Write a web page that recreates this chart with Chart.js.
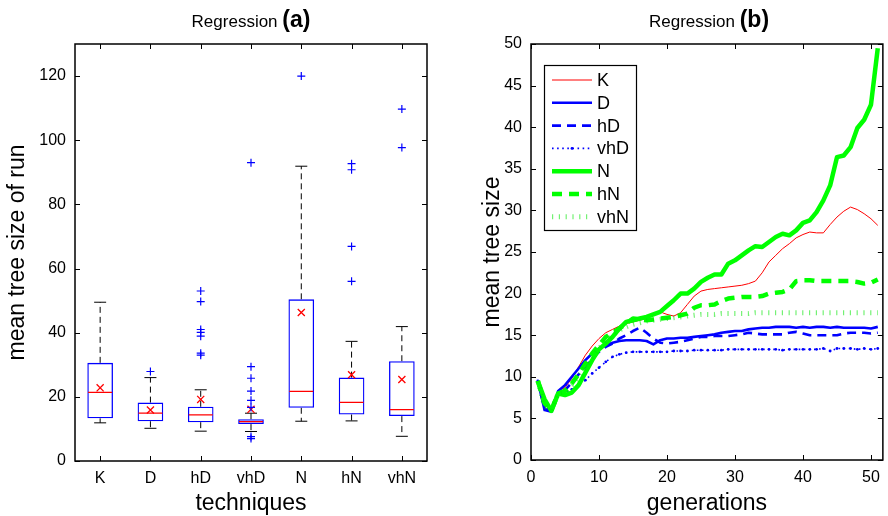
<!DOCTYPE html>
<html>
<head>
<meta charset="utf-8">
<script src="https://cdn.jsdelivr.net/npm/chart.js@4.4.1/dist/chart.umd.min.js"></script>
<style>
  html, body { margin: 0; padding: 0; background: #fff; }
  #page { position: relative; width: 888px; height: 516px; overflow: hidden; font-family: "Liberation Sans", Arial, Helvetica, sans-serif; }
  .panel { position: absolute; top: 0; width: 444px; height: 516px; }
  .title { position: absolute; top: 6px; width: 240px; text-align: center; color: #000; white-space: nowrap; }
  .title .n { font-size: 17px; }
  .title .b { font-size: 23px; font-weight: bold; }
</style>
</head>
<body>
<div id="page">
  <div class="panel" style="left:0"><canvas id="boxChart" width="444" height="516"></canvas></div>
  <div class="panel" style="left:444px"><canvas id="lineChart" width="444" height="516"></canvas></div>
  <div class="title" style="left:131px"><span class="n">Regression </span><span class="b">(a)</span></div>
  <div class="title" style="left:589px"><span class="n">Regression </span><span class="b">(b)</span></div>
</div>
<script>
// ---------- Panel (a): box plot data ----------
const techniques   = ['K', 'D', 'hD', 'vhD', 'N', 'hN', 'vhN'];
const whiskerLow   = [11.9, 10.2, 9.3, 9.2, 12.4, 12.5, 7.7];
const quartile1    = [13.3, 12.4, 12.1, 11.5, 16.6, 14.5, 14.0];
const medians      = [21.4, 14.9, 14.4, 12.3, 21.7, 18.3, 16.0];
const quartile3    = [30.6, 18.2, 16.9, 13.0, 50.4, 26.0, 31.1];
const whiskerHigh  = [49.5, 26.0, 22.2, 14.9, 91.9, 37.3, 41.9];
const means        = [22.8, 15.9, 19.2, 16.1, 46.3, 26.9, 25.4];
const outliersK    = [];
const outliersD    = [27.9];
const outliersHD   = [53.0, 49.7, 41.0, 40.1, 38.9, 33.6, 33.0];
const outliersVHD  = [93.0, 29.4, 25.8, 21.8, 18.9, 16.7, 7.6, 7.0];
const outliersN    = [120.0];
const outliersHN   = [92.7, 90.8, 66.9, 56.0];
const outliersVHN  = [109.7, 97.7];
const boxTicks     = [0, 20, 40, 60, 80, 100, 120];

// ---------- Panel (b): mean tree size per generation ----------
const generations = [1,2,3,4,5,6,7,8,9,10,11,12,13,14,15,16,17,18,19,20,21,22,23,24,25,26,27,28,29,30,31,32,33,34,35,36,37,38,39,40,41,42,43,44,45,46,47,48,49,50,51];
const seriesK   = [9.5,6.2,6.0,8.3,8.7,9.8,11.2,12.6,13.7,14.6, 15.3,15.7,16.1,16.4,16.6,16.8,17.0,17.4,17.8,17.5, 17.3,17.7,18.7,19.7,20.3,20.5,20.6,20.7,20.8,20.9, 21.0,21.2,21.5,22.5,23.8,24.6,25.4,26.0,26.7,27.1, 27.4,27.3,27.3,28.3,29.2,29.9,30.4,30.1,29.6,29.0,28.2];
const seriesD   = [9.5,6.0,5.8,8.3,9.0,10.0,11.0,12.0,12.8,13.4, 13.8,14.1,14.3,14.4,14.4,14.4,14.3,13.9,14.4,14.6, 14.6,14.7,14.7,14.8,14.9,15.0,15.1,15.3,15.4,15.5, 15.5,15.7,15.8,15.9,15.9,16.0,16.0,16.0,15.9,16.0, 15.9,16.0,16.0,15.9,16.0,15.9,15.9,15.9,15.9,15.8,16.0];
const seriesHD  = [9.5,6.2,5.9,8.0,8.4,9.3,10.3,11.2,12.2,13.0, 13.6,14.0,14.6,15.0,15.5,15.9,15.3,14.6,14.1,14.0, 14.1,14.2,14.4,14.6,14.8,14.8,14.9,14.9,14.9,15.0, 15.1,15.3,15.2,15.1,15.1,15.1,15.1,15.3,15.4,15.2, 15.0,15.0,15.0,15.0,15.0,15.2,15.3,15.3,15.3,15.2,15.3];
const seriesVHD = [9.5,6.2,6.0,7.8,8.0,8.5,9.0,9.6,10.4,11.1, 11.8,12.4,12.7,12.9,13.0,13.0,13.0,13.0,13.0,13.0, 13.1,13.1,13.1,13.2,13.2,13.2,13.2,13.2,13.3,13.3, 13.3,13.3,13.3,13.3,13.3,13.3,13.2,13.3,13.3,13.3, 13.3,13.3,13.4,13.1,13.4,13.4,13.4,13.3,13.4,13.3,13.4];
const seriesN   = [9.5,7.3,5.9,8.0,7.8,8.1,9.0,10.5,12.0,13.3, 14.0,14.8,15.8,16.6,16.8,17.0,17.2,17.5,17.8,18.5, 19.2,20.0,20.0,20.6,21.4,21.9,22.3,22.3,23.6,24.0, 24.6,25.2,25.7,25.6,26.2,26.8,27.2,27.0,27.6,28.5, 28.8,29.8,31.2,33.0,36.4,36.6,37.6,39.9,40.9,42.7,49.5];
const seriesHN  = [9.5,6.8,6.0,8.0,8.3,9.2,10.3,11.6,12.8,13.8, 14.8,15.3,15.8,16.4,17.0,16.9,16.8,16.9,17.0,17.1, 17.2,17.4,17.6,18.3,18.6,18.6,18.7,19.1,19.4,19.5, 19.6,19.6,19.6,19.7,20.0,20.1,20.2,20.5,21.5,21.6, 21.6,21.5,21.5,21.5,21.5,21.5,21.5,21.4,21.2,21.3,21.7];
const seriesVHN = [9.5,6.5,6.0,8.0,8.2,9.0,10.0,11.2,12.4,13.4, 14.3,15.0,15.6,16.0,16.3,16.5,16.7,16.8,16.9,17.0, 17.1,17.2,17.3,17.4,17.5,17.5,17.5,17.6,17.6,17.6, 17.6,17.6,17.7,17.7,17.7,17.7,17.7,17.7,17.7,17.7, 17.7,17.7,17.7,17.7,17.7,17.7,17.7,17.7,17.7,17.7,17.7];
const seriesNames = ['K', 'D', 'hD', 'vhD', 'N', 'hN', 'vhN'];
const genTicks  = [0, 10, 20, 30, 40, 50];
const sizeTicks = [0, 5, 10, 15, 20, 25, 30, 35, 40, 45, 50];

// ---------- common helpers ----------
const FONT = '"Liberation Sans", Arial, Helvetica, sans-serif';
Chart.defaults.font.family = FONT;
Chart.defaults.color = '#000';
Chart.defaults.animation = false;

const framePlugin = {
  id: 'frame',
  afterDraw(chart) {
    const { ctx, chartArea: a, scales } = chart;
    const x = scales.x, y = scales.y;
    ctx.save();
    ctx.strokeStyle = '#000';
    ctx.lineWidth = 1;
    const tl = 5;
    ctx.beginPath();
    x.ticks.forEach((t, i) => {
      const px = Math.round(x.getPixelForTick(i)) + 0.5;
      ctx.moveTo(px, a.bottom); ctx.lineTo(px, a.bottom - tl);
      ctx.moveTo(px, a.top); ctx.lineTo(px, a.top + tl);
    });
    y.ticks.forEach((t, i) => {
      const py = Math.round(y.getPixelForTick(i)) + 0.5;
      ctx.moveTo(a.left, py); ctx.lineTo(a.left + tl, py);
      ctx.moveTo(a.right, py); ctx.lineTo(a.right - tl, py);
    });
    ctx.stroke();
    ctx.lineWidth = 1.5;
    ctx.strokeRect(a.left, a.top, a.right - a.left, a.bottom - a.top);
    ctx.restore();
  }
};

// ---------- Panel (a) ----------
const whiskerPoints = [];
techniques.forEach((t, i) => {
  whiskerPoints.push({ x: t, y: quartile3[i] }, { x: t, y: whiskerHigh[i] }, { x: t, y: null });
  whiskerPoints.push({ x: t, y: quartile1[i] }, { x: t, y: whiskerLow[i] }, { x: t, y: null });
});
const capPoints = [];
techniques.forEach((t, i) => { capPoints.push({ x: t, y: whiskerHigh[i] }, { x: t, y: whiskerLow[i] }); });
const outlierLists = [outliersK, outliersD, outliersHD, outliersVHD, outliersN, outliersHN, outliersVHN];
const outlierPoints = [];
outlierLists.forEach((list, i) => list.forEach(v => outlierPoints.push({ x: techniques[i], y: v })));

const pointOnly = { type: 'line', showLine: false, pointHoverRadius: 0 };

new Chart(document.getElementById('boxChart'), {
  type: 'bar',
  data: {
    labels: techniques,
    datasets: [
      { type: 'line', label: 'whiskers', data: whiskerPoints, borderColor: '#000', borderWidth: 1,
        borderDash: [6, 4], pointRadius: 0, spanGaps: false, order: 6 },
      { ...pointOnly, label: 'caps', data: capPoints, pointStyle: 'line', pointRadius: 6,
        borderColor: '#000', borderWidth: 1, order: 5 },
      { type: 'bar', label: 'box', data: techniques.map((t, i) => [quartile1[i], quartile3[i]]),
        backgroundColor: 'rgba(0,0,0,0)', borderColor: '#0000ff', borderWidth: 1.3, borderSkipped: false,
        barPercentage: 0.51, categoryPercentage: 1, order: 4 },
      { ...pointOnly, label: 'median', data: techniques.map((t, i) => ({ x: t, y: medians[i] })),
        pointStyle: 'line', pointRadius: 12, borderColor: '#ff0000', borderWidth: 1.3, order: 3 },
      { ...pointOnly, label: 'mean', data: techniques.map((t, i) => ({ x: t, y: means[i] })),
        pointStyle: 'crossRot', pointRadius: 5, borderColor: '#ff0000', borderWidth: 1.3, order: 2 },
      { ...pointOnly, label: 'outliers', data: outlierPoints, pointStyle: 'cross', pointRadius: 4,
        borderColor: '#0000ff', borderWidth: 1.2, order: 1 }
    ]
  },
  options: {
    responsive: false,
    devicePixelRatio: 1,
    layout: { padding: { top: 44, right: 17, left: 0, bottom: 0 } },
    plugins: { legend: { display: false }, tooltip: { enabled: false } },
    scales: {
      x: {
        type: 'category', offset: true,
        grid: { display: false, drawTicks: false }, border: { display: false },
        ticks: { font: { size: 16 }, padding: 8, color: '#000' },
        title: { display: true, text: 'techniques', font: { size: 23 }, color: '#000', padding: { top: 0, bottom: -1 } },
        afterFit(s) { s.height = 55; }
      },
      y: {
        min: 0, max: 130,
        grid: { display: false, drawTicks: false }, border: { display: false },
        afterBuildTicks(s) { s.ticks = boxTicks.map(v => ({ value: v })); },
        ticks: { font: { size: 16 }, padding: 9, color: '#000' },
        title: { display: true, text: 'mean tree size of run', font: { size: 23 }, color: '#000', padding: { top: 4, bottom: 0 } },
        afterFit(s) { s.width = 75; }
      }
    }
  },
  plugins: [framePlugin]
});

// ---------- Panel (b) ----------
const seriesValues = [seriesK, seriesD, seriesHD, seriesVHD, seriesN, seriesHN, seriesVHN];
const seriesStyles = [
  { color: '#ff0000', width: 1, dash: [] },
  { color: '#0000ff', width: 2.6, dash: [] },
  { color: '#0000ff', width: 2.6, dash: [9, 6] },
  { color: '#0000ff', width: 1.6, dash: [1.6, 3.5], point: 1.4 },
  { color: '#00ff00', width: 4.5, dash: [] },
  { color: '#00ff00', width: 4.5, dash: [10, 7] },
  { color: 'rgba(0,230,0,0.55)', width: 5, dash: [1.2, 5.6] }
];

const lineDatasets = seriesValues.map((vals, k) => ({
  label: seriesNames[k],
  data: generations.map((g, i) => ({ x: g, y: vals[i] })),
  borderColor: seriesStyles[k].color,
  backgroundColor: seriesStyles[k].color,
  borderWidth: seriesStyles[k].width,
  borderDash: seriesStyles[k].dash,
  borderCapStyle: 'butt',
  borderJoinStyle: 'round',
  pointRadius: seriesStyles[k].point || 0,
  pointBorderWidth: 0,
  tension: 0,
  fill: false,
  order: 7 - k
}));

const legendPlugin = {
  id: 'insideLegend',
  afterDraw(chart) {
    const { ctx } = chart;
    const bx = 100, by = 65, bw = 92, bh = 165;
    ctx.save();
    ctx.fillStyle = '#fff';
    ctx.fillRect(bx, by, bw, bh);
    ctx.strokeStyle = '#000';
    ctx.lineWidth = 1.2;
    ctx.strokeRect(bx + 0.5, by + 0.5, bw, bh);
    ctx.font = '18px ' + FONT;
    ctx.textBaseline = 'middle';
    ctx.textAlign = 'left';
    seriesNames.forEach((name, k) => {
      const st = seriesStyles[k];
      const yy = by + 15 + k * 22.8;
      ctx.beginPath();
      ctx.strokeStyle = st.color;
      ctx.lineWidth = st.width;
      ctx.lineCap = 'butt';
      ctx.setLineDash(st.dash);
      ctx.moveTo(108, yy);
      ctx.lineTo(148, yy);
      ctx.stroke();
      ctx.setLineDash([]);
      if (st.point) {
        ctx.fillStyle = st.color;
        ctx.beginPath(); ctx.arc(128, yy, st.point, 0, Math.PI * 2); ctx.fill();
      }
      ctx.fillStyle = '#000';
      ctx.fillText(name, 153, yy + 1);
    });
    ctx.restore();
  }
};

new Chart(document.getElementById('lineChart'), {
  type: 'line',
  data: { datasets: lineDatasets },
  options: {
    responsive: false,
    devicePixelRatio: 1,
    layout: { padding: { top: 44, right: 1, left: 0, bottom: 0 } },
    plugins: { legend: { display: false }, tooltip: { enabled: false } },
    scales: {
      x: {
        type: 'linear', min: 0, max: 51.75,
        grid: { display: false, drawTicks: false }, border: { display: false },
        afterBuildTicks(s) { s.ticks = genTicks.map(v => ({ value: v })); },
        ticks: { font: { size: 16 }, padding: 8, color: '#000' },
        title: { display: true, text: 'generations', font: { size: 23 }, color: '#000', padding: { top: 0, bottom: -1 } },
        afterFit(s) { s.height = 56; }
      },
      y: {
        type: 'linear', min: 0, max: 50,
        grid: { display: false, drawTicks: false }, border: { display: false },
        afterBuildTicks(s) { s.ticks = sizeTicks.map(v => ({ value: v })); },
        ticks: { font: { size: 16 }, padding: 9, color: '#000' },
        title: { display: true, text: 'mean tree size', font: { size: 23 }, color: '#000', padding: { top: 35, bottom: 0 } },
        afterFit(s) { s.width = 87; }
      }
    }
  },
  plugins: [framePlugin, legendPlugin]
});
</script>
</body>
</html>
